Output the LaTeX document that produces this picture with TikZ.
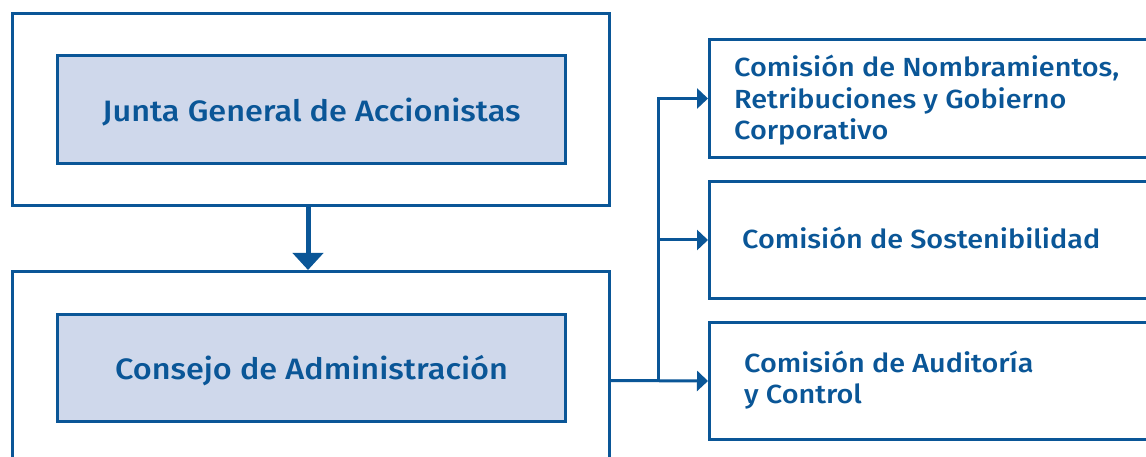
\documentclass[tikz,border=0pt]{standalone}
\usepackage{fontspec}
\setmainfont{Fira Sans Medium}[FakeStretch=1.1]
\usetikzlibrary{arrows.meta}
\definecolor{navy}{HTML}{0A5697}
\definecolor{pale}{HTML}{CFD8EB}
\begin{document}
\begin{tikzpicture}[x=1pt,y=-1pt,
  frame/.style={draw=navy, line width=3pt, inner sep=0pt, anchor=north west, text=navy},
  bigtext/.style={font=\fontsize{29.5}{35}\selectfont},
  comtext/.style={font=\fontsize{26.2}{31.5}\selectfont, text=navy, align=left, anchor=west, inner sep=0pt},
  conn/.style={draw=navy, line width=3pt, -{Triangle[width=20pt,length=11pt]}}]
\path[use as bounding box, clip] (0,0) rectangle (1146,457);
\fill[white] (0,0) rectangle (1146,457);
% left column
\node[frame, minimum width=597pt, minimum height=192pt] (outer1) at (11,12) {};
\node[frame, fill=pale, minimum width=508pt, minimum height=108pt] (inner1) at (56,54) {};
\node[bigtext, text=navy, inner sep=0pt] (l1) at ([yshift=-2.5pt]inner1.center) {Junta General de Accionistas};
\node[frame, minimum width=597pt, minimum height=218pt] (outer2) at (11,270) {};
\node[frame, fill=pale, minimum width=508pt, minimum height=107pt] (inner2) at (56,313) {};
\node[bigtext, text=navy, inner sep=0pt] (l2) at ([yshift=-3pt]inner2.center) {Consejo de Administración};
% right column
\node[frame, minimum width=460pt, minimum height=118pt] (box1) at (708,38) {};
\node[frame, minimum width=460pt, minimum height=117pt] (box2) at (708,180) {};
\node[frame, minimum width=460pt, minimum height=117pt] (box3) at (708,321) {};
\node[comtext] (t1) at ([xshift=26pt,yshift=-2pt]box1.west) {Comisión de Nombramientos,\\Retribuciones y Gobierno\\Corporativo};
\node[comtext] (t2) at ([xshift=34pt,yshift=2.5pt]box2.west) {Comisión de Sostenibilidad};
\node[comtext] (t3) at ([xshift=36pt,yshift=1pt]box3.west) {Comisión de Auditoría\\y Control};
% connectors
\coordinate (dn) at ([xshift=-3pt]outer1.south);
\draw[draw=navy, line width=5pt, -{Triangle[width=30pt,length=17pt]}] (dn) -- (dn |- outer2.north);
\coordinate (bus) at (658,0);
\draw[conn] (outer2.east) -- (box3.west);
\draw[conn] (bus |- box3.west) -- (bus |- box1.west) -- (box1.west);
\draw[conn] (bus |- box2.west) -- (box2.west);
\end{tikzpicture}
\end{document}
